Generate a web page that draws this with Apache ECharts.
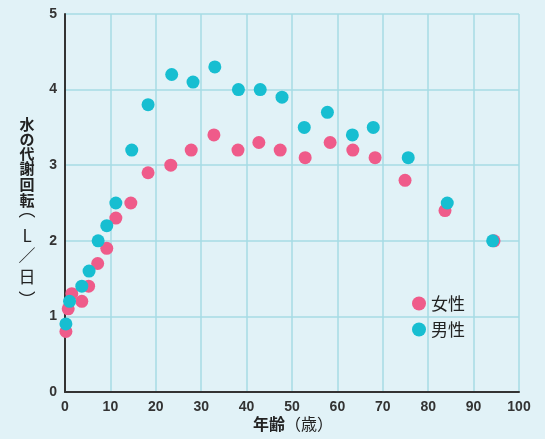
<!DOCTYPE html>
<html><head><meta charset="utf-8">
<script src="https://cdn.jsdelivr.net/npm/echarts@6/dist/echarts.min.js"></script>
<style>html,body{margin:0;padding:0;background:#e1f2f7;}#c{width:545px;height:439px;}</style>
</head><body><div id="c"></div>
<script>
const femaleAge = [0.2,0.7,1.5,3.7,5.2,7.2,9.2,11.2,14.5,18.3,23.3,27.8,32.8,38.1,42.7,47.4,52.9,58.4,63.4,68.3,74.9,83.7,94.5];
const femaleVal = [0.8,1.1,1.3,1.2,1.4,1.7,1.9,2.3,2.5,2.9,3.0,3.2,3.4,3.2,3.3,3.2,3.1,3.3,3.2,3.1,2.8,2.4,2.0];
const maleAge = [0.2,1.0,3.7,5.3,7.3,9.2,11.2,14.7,18.3,23.5,28.2,33.0,38.2,43.0,47.8,52.7,57.8,63.3,67.9,75.6,84.2,94.2];
const maleVal = [0.9,1.2,1.4,1.6,2.0,2.2,2.5,3.2,3.8,4.2,4.1,4.3,4.0,4.0,3.9,3.5,3.7,3.4,3.5,3.1,2.5,2.0];
const seriesNames = ['女性','男性'];
const xTicks = [0,10,20,30,40,50,60,70,80,90,100];
const yTicks = [0,1,2,3,4,5];
const yNameBold = ['水','の','代','謝','回','転'];
const yNameUnit = ['︵','L','／','日','︶'];

const pink = '#ef5b8a', cyan = '#17bed1';
const font = '"Noto Sans CJK JP", sans-serif';
const chart = echarts.init(document.getElementById('c'));
const pair = (a, b) => a.map((v, i) => [v, b[i]]);

const boldY = [124, 139, 153.5, 168.5, 184, 200];
const unitY = [210, 236, 256, 276.5, 300];
const nameGraphics = [];
yNameBold.forEach((ch, i) => nameGraphics.push({type: 'text', x: 27, y: boldY[i], style: {
  text: ch, fontSize: 15, fontWeight: 'bold', fontFamily: font, fill: '#222', align: 'center', verticalAlign: 'middle'}}));
yNameUnit.forEach((ch, i) => nameGraphics.push({type: 'text', x: 27, y: unitY[i], style: {
  text: ch, fontSize: 17, fontFamily: font, fill: '#222', align: 'center', verticalAlign: 'middle'}}));

chart.setOption({
  backgroundColor: '#e1f2f7',
  animation: false,
  grid: {left: 65, right: 26, top: 14, bottom: 47},
  xAxis: {
    type: 'value', min: xTicks[0], max: xTicks[xTicks.length-1], interval: 10,
    axisLine: {lineStyle: {color: '#333', width: 2}},
    axisTick: {show: false},
    axisLabel: {color: '#333', fontSize: 14, fontWeight: 'bold', fontFamily: 'Liberation Sans', margin: 8},
    splitLine: {lineStyle: {color: '#a6dbe5', width: 1.5}}
  },
  yAxis: {
    type: 'value', min: yTicks[0], max: yTicks[yTicks.length-1], interval: 1,
    axisLine: {show: true, lineStyle: {color: '#333', width: 2}},
    axisTick: {show: false},
    axisLabel: {color: '#333', fontSize: 14, fontWeight: 'bold', fontFamily: 'Liberation Sans', margin: 8},
    splitLine: {lineStyle: {color: '#a6dbe5', width: 1.5}}
  },
  legend: {
    orient: 'vertical', left: 407, top: 290, itemGap: 9,
    icon: 'circle', itemWidth: 14, itemHeight: 14,
    data: seriesNames,
    textStyle: {fontSize: 17, color: '#222', fontFamily: font}
  },
  graphic: nameGraphics.concat([
    {type: 'text', left: 253, top: 416, style: {
      text: '{b|年齢}{n|（歳）}',
      rich: {
        b: {fontSize: 16, fontWeight: 'bold', fontFamily: font, fill: '#222'},
        n: {fontSize: 16, fontFamily: font, fill: '#222'}
      }
    }}
  ]),
  series: [
    {name: seriesNames[0], type: 'scatter', symbolSize: 13, itemStyle: {color: pink, opacity: 1}, data: pair(femaleAge, femaleVal)},
    {name: seriesNames[1], type: 'scatter', symbolSize: 13, itemStyle: {color: cyan, opacity: 1}, data: pair(maleAge, maleVal)}
  ]
});
</script></body></html>
